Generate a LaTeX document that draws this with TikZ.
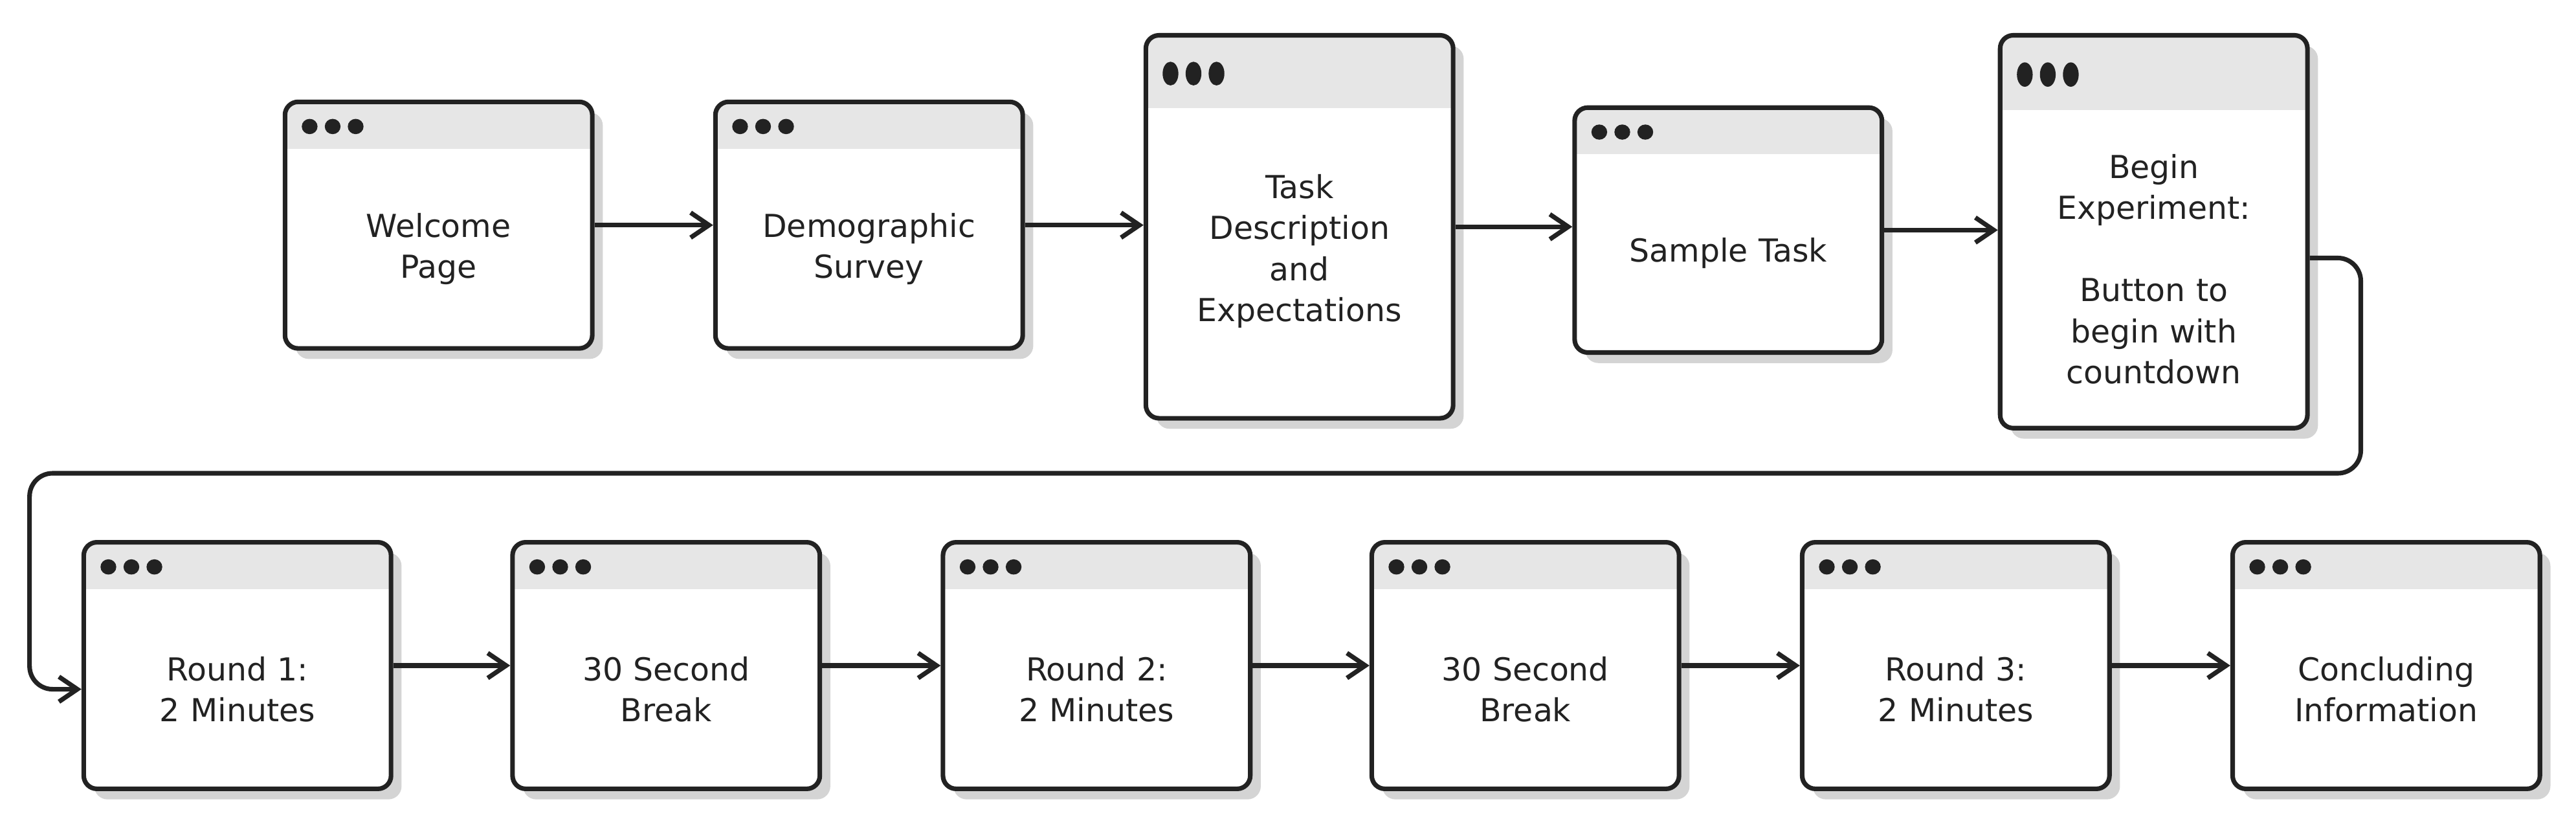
\documentclass[tikz,border=0pt]{standalone}
\usepackage{fontspec}
\setmainfont{DejaVu Sans}
\usetikzlibrary{arrows.meta,shadows}

\definecolor{ink}{HTML}{222222}
\definecolor{barfill}{HTML}{E6E6E6}
\definecolor{shade}{HTML}{D4D4D4}

\tikzset{
  window/.style={draw=ink, line width=0.07cm, fill=white, rounded corners=0.2cm,
    minimum width=4.675cm, minimum height=#1cm, inner sep=0pt,
    drop shadow={shadow xshift=0.16cm, shadow yshift=-0.16cm, fill=shade, opacity=1},
    path picture={
      \fill[barfill, sharp corners] (path picture bounding box.north west)
        rectangle ([yshift=-0.19*#1cm]path picture bounding box.north east);
      \foreach \dx in {0.375,0.725,1.075}
        \fill[ink] ([xshift=\dx cm, yshift=-0.1*#1cm]path picture bounding box.north west)
          ellipse [x radius=0.12cm, y radius=0.031*#1cm];
    }},
  caption/.style={text=ink, text width=4.4cm, align=center,
    font=\fontsize{13.7}{17.8}\selectfont},
  flow/.style={draw=ink, line width=0.07cm, -{Straight Barb[length=0.28cm, width=0.38cm]}}
}

\begin{document}
\begin{tikzpicture}[x=0.025cm, y=-0.025cm]
  \useasboundingbox (0,0) rectangle (1568,498);

  % first row
  \node[window=3.75, label={[caption,yshift=-0.36cm]center:{Welcome\\Page}}] (welcome) at (267,137) {};
  \node[window=3.75, label={[caption,yshift=-0.36cm]center:{Demographic\\Survey}}] (survey) at (529,137) {};
  \node[window=5.825, label={[caption,yshift=-0.37cm]center:{Task\\Description\\and\\Expectations}}] (task) at (791,138) {};
  \node[window=3.725, label={[caption,yshift=-0.355cm]center:{Sample Task}}] (sample) at (1052,140) {};
  \node[window=5.975, label={[caption,yshift=-0.57cm]center:{Begin\\Experiment:\\[17.8pt]Button to\\begin with\\countdown}}] (begin) at (1311,141) {};

  % second row
  \node[window=3.75, label={[caption,yshift=-0.36cm]center:{Round 1:\\2 Minutes}}] (round1) at (144.5,405) {};
  \node[window=3.75, label={[caption,yshift=-0.36cm]center:{30 Second\\Break}}] (pause1) at (405.5,405) {};
  \node[window=3.75, label={[caption,yshift=-0.36cm]center:{Round 2:\\2 Minutes}}] (round2) at (667.5,405) {};
  \node[window=3.75, label={[caption,yshift=-0.36cm]center:{30 Second\\Break}}] (pause2) at (928.5,405) {};
  \node[window=3.75, label={[caption,yshift=-0.36cm]center:{Round 3:\\2 Minutes}}] (round3) at (1190.5,405) {};
  \node[window=3.75, label={[caption,yshift=-0.36cm]center:{Concluding\\Information}}] (closing) at (1452.5,405) {};

  \draw[flow] (welcome.east) -- (welcome.east -| survey.west);
  \draw[flow] (survey.east) -- (survey.east -| task.west);
  \draw[flow] (task.east) -- (task.east -| sample.west);
  \draw[flow] (sample.east) -- (sample.east -| begin.west);

  % wrap round to the second row
  \draw[flow, rounded corners=0.35cm] ([yshift=-0.4cm]begin.east) -| (1437,288) -- (18,288)
    |- ([yshift=-0.36cm]round1.west);

  \draw[flow] (round1) -- (pause1);
  \draw[flow] (pause1) -- (round2);
  \draw[flow] (round2) -- (pause2);
  \draw[flow] (pause2) -- (round3);
  \draw[flow] (round3) -- (closing);
\end{tikzpicture}
\end{document}
